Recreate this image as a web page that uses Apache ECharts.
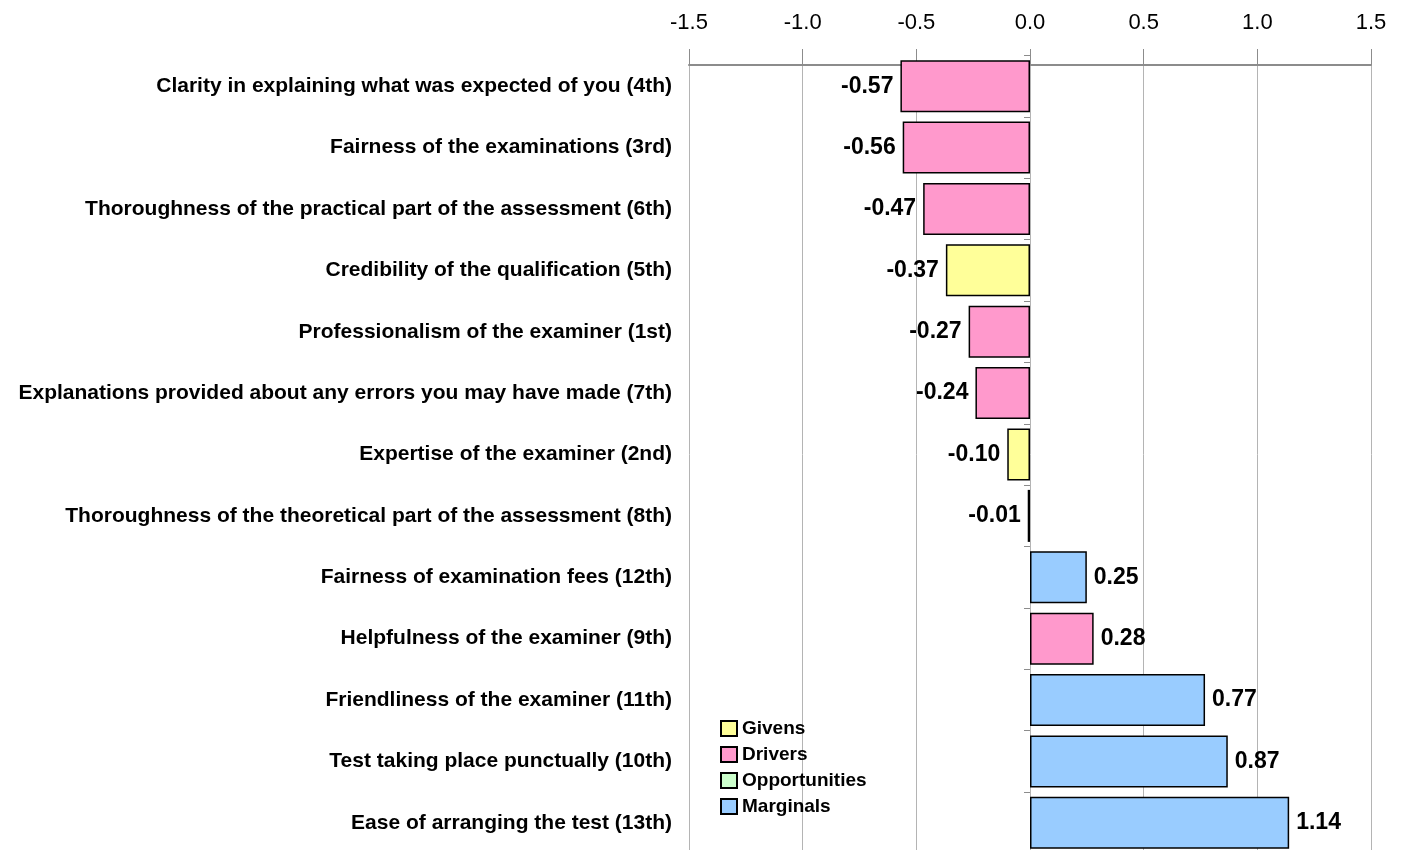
<!DOCTYPE html>
<html><head><meta charset="utf-8">
<script src="https://cdn.jsdelivr.net/npm/echarts@6/dist/echarts.min.js"></script>
<style>html,body{margin:0;padding:0;background:#fff;overflow:hidden}#c{width:1404px;height:870px}</style>
</head><body><div id="c"></div>
<script>
const categories = [
  "Clarity in explaining what was expected of you (4th)",
  "Fairness of the examinations (3rd)",
  "Thoroughness of the practical part of the assessment (6th)",
  "Credibility of the qualification (5th)",
  "Professionalism of the examiner (1st)",
  "Explanations provided about any errors you may have made (7th)",
  "Expertise of the examiner (2nd)",
  "Thoroughness of the theoretical part of the assessment (8th)",
  "Fairness of examination fees (12th)",
  "Helpfulness of the examiner (9th)",
  "Friendliness of the examiner (11th)",
  "Test taking place punctually (10th)",
  "Ease of arranging the test (13th)"
];
const values = [-0.57, -0.56, -0.47, -0.37, -0.27, -0.24, -0.10, -0.01, 0.25, 0.28, 0.77, 0.87, 1.14];
const groups = ["Drivers","Drivers","Drivers","Givens","Drivers","Drivers","Givens","Drivers","Marginals","Drivers","Marginals","Marginals","Marginals"];
const groupNames = ["Givens","Drivers","Opportunities","Marginals"];
const groupColors = ["#FFFF99","#FF99CC","#CCFFCC","#99CCFF"];
const xTicks = [-1.5, -1.0, -0.5, 0.0, 0.5, 1.0, 1.5];

const FONT = "'Liberation Sans', Arial, sans-serif";
const series = groupNames.map((g, gi) => ({
  name: g,
  type: 'bar',
  stack: 'total',
  barWidth: 52,
  itemStyle: { color: groupColors[gi], borderColor: '#000', borderWidth: 1.5 },
  label: { show: true, fontFamily: FONT, fontWeight: 'bold', fontSize: 23, color: '#000', distance: 7,
           formatter: p => p.value.toFixed(2) },
  data: values.map((v, i) => groups[i] === g
    ? { value: v, label: { position: v < 0 ? 'left' : 'right' } }
    : null)
}));

const chart = echarts.init(document.getElementById('c'));
chart.setOption({
  animation: false,
  backgroundColor: '#fff',
  textStyle: { fontFamily: FONT },
  grid: { left: 689, right: 33, top: 55.5, height: 798 },
  legend: {
    orient: 'vertical', left: 720, top: 719, icon: 'rect', padding: 0,
    itemWidth: 16, itemHeight: 15, itemGap: 7,
    textStyle: { fontFamily: FONT, fontWeight: 'bold', fontSize: 19, color: '#000', lineHeight: 18 },
    data: groupNames
  },
  xAxis: {
    type: 'value', position: 'top', min: xTicks[0], max: xTicks[xTicks.length-1], interval: 0.5,
    offset: -9.5,
    axisLine: { show: true, lineStyle: { color: '#8c8c8c', width: 2 } },
    axisTick: { show: true, length: 16, lineStyle: { color: '#8c8c8c', width: 1 } },
    axisLabel: { fontFamily: FONT, fontSize: 22, color: '#000', margin: 31, formatter: v => v.toFixed(1) },
    splitLine: { show: true, lineStyle: { color: '#b4b4b4', width: 1 } }
  },
  yAxis: [
    { type: 'category', data: categories, inverse: true,
      axisLine: { show: false }, axisTick: { show: false },
      axisLabel: { fontFamily: FONT, fontWeight: 'bold', fontSize: 21, color: '#000', margin: 17 } },
    { type: 'category', data: categories, inverse: true, position: 'left', offset: -341,
      axisLine: { show: false }, axisLabel: { show: false },
      axisTick: { show: true, length: 6, lineStyle: { color: '#8c8c8c' } } }
  ],
  series: series
});
</script></body></html>
